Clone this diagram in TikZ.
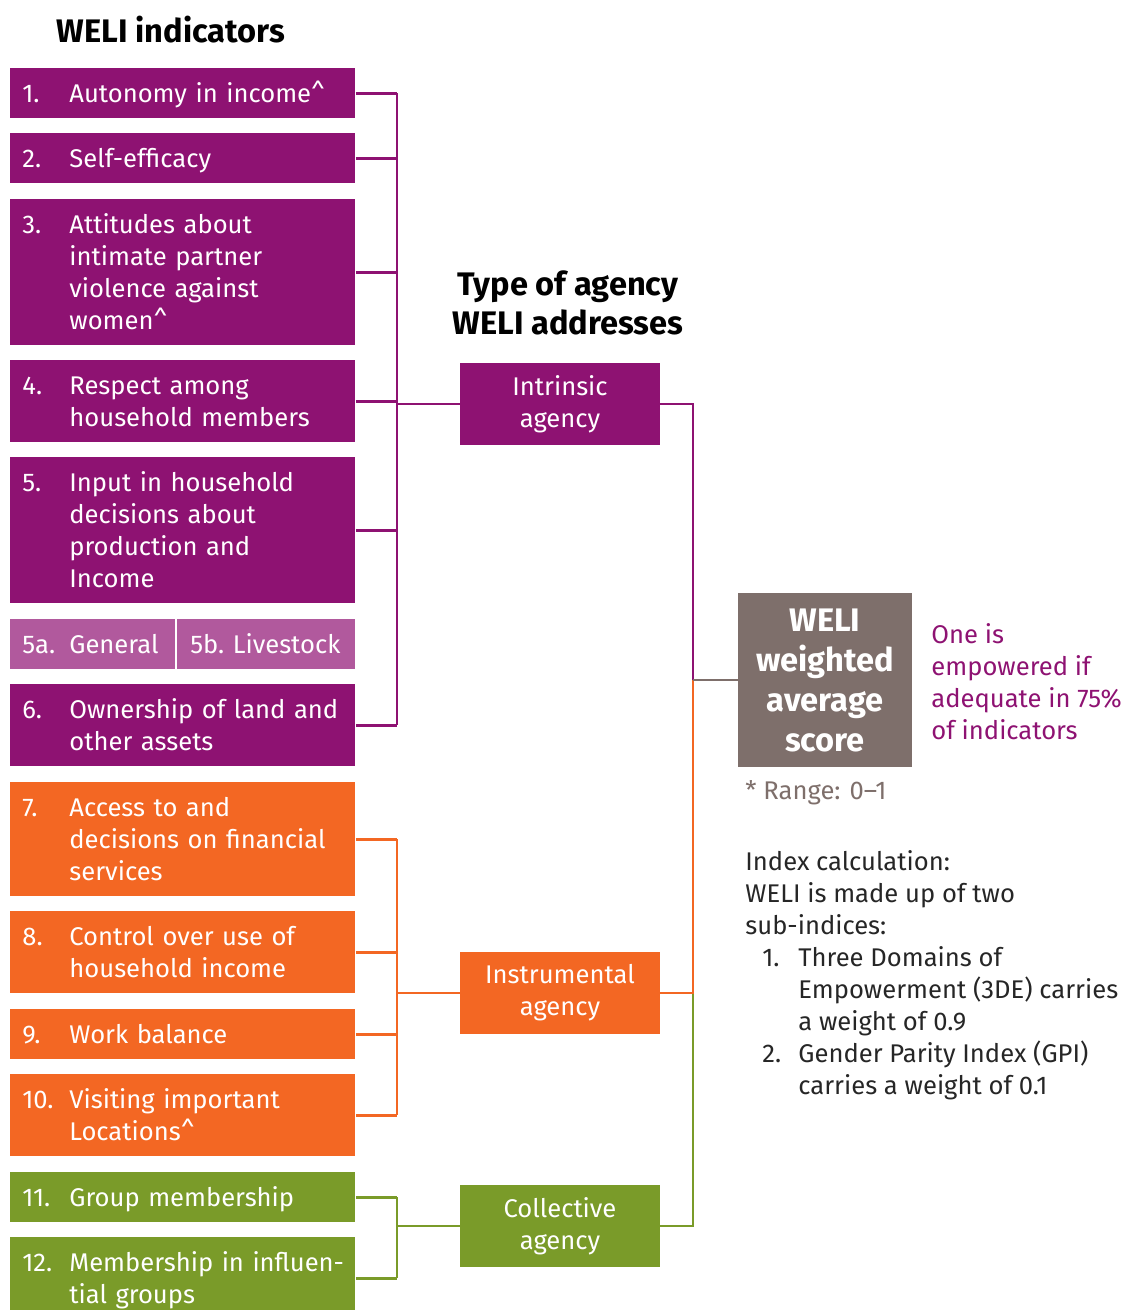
\documentclass[tikz,border=0pt]{standalone}
\usepackage{fontspec}
\setmainfont{Fira Sans}
\usetikzlibrary{positioning, calc}
\setlength{\parindent}{0pt}
\definecolor{weliPurple}{HTML}{8E1272}
\definecolor{weliLilac}{HTML}{B1599D}
\definecolor{weliOrange}{HTML}{F36723}
\definecolor{weliGreen}{HTML}{7A9B29}
\definecolor{weliGrey}{HTML}{7E6F6B}
\newcommand{\boxfont}{\fontsize{12.8}{16}\selectfont}
\newcommand{\headfont}{\fontsize{16.3}{19.5}\selectfont\bfseries}
% extra room above the text, so that it sits a little lower in its box
\newcommand{\padtop}[1]{\raisebox{0pt}[\dimexpr\height+3pt\relax][\depth]{#1}}
\newcommand{\numitem}[2]{%
    \padtop{\begin{tabular}{@{}p{23.5pt}@{}l@{}}
        #1 & \begin{tabular}[t]{@{}l@{}}#2\end{tabular}
    \end{tabular}}%
}
\tikzset{
    indbox/.style={
        rectangle, fill=#1, text=white, anchor=north west,
        text width=160.5pt, inner xsep=6pt, inner ysep=0pt,
        align=left, font=\boxfont
    },
    agencybox/.style={
        rectangle, fill=#1, text=white, minimum width=100pt,
        minimum height=41pt, inner sep=0pt, align=center, font=\boxfont
    },
    link/.style={draw=#1, line width=1.2pt},
}

\begin{document}
\begin{tikzpicture}[x=0.5pt, y=-0.5pt]
    \useasboundingbox (0,0) rectangle (1137,1310);

    % headings
    \node[font=\headfont] (head) at (171,30) {WELI indicators};
    \node[font=\headfont, align=center] (agtitle) at (568,303)
        {Type of agency\\WELI addresses};

    % indicators
    \node[indbox=weliPurple, minimum height=25pt] (i1) at (10,68)
        {\numitem{1.}{Autonomy in income\textasciicircum}};
    \node[indbox=weliPurple, minimum height=25pt] (i2) at (10,133)
        {\numitem{2.}{Self-efficacy}};
    \node[indbox=weliPurple, minimum height=73pt] (i3) at (10,199)
        {\numitem{3.}{Attitudes about\\intimate partner\\violence against\\women\textasciicircum}};
    \node[indbox=weliPurple, minimum height=41pt] (i4) at (10,360)
        {\numitem{4.}{Respect among\\household members}};
    \node[indbox=weliPurple, minimum height=73pt] (i5) at (10,457)
        {\numitem{5.}{Input in household\\decisions about\\production and\\Income}};
    \node[indbox=weliLilac, minimum height=25pt, text width=70.5pt] (i5a) at (10,619)
        {\numitem{5a.}{General}};
    \node[indbox=weliLilac, minimum height=25pt, text width=76pt, inner xsep=6.5pt] (i5b) at (177,619)
        {\padtop{\begin{tabular}{@{}l@{}}5b.\ Livestock\end{tabular}}};
    \node[indbox=weliPurple, minimum height=41pt] (i6) at (10,684)
        {\numitem{6.}{Ownership of land and\\other assets}};
    \node[indbox=weliOrange, minimum height=57pt] (i7) at (10,782)
        {\numitem{7.}{Access to and\\decisions on financial\\services}};
    \node[indbox=weliOrange, minimum height=41pt] (i8) at (10,911)
        {\numitem{8.}{Control over use of\\household income}};
    \node[indbox=weliOrange, minimum height=25pt] (i9) at (10,1009)
        {\numitem{9.}{Work balance}};
    \node[indbox=weliOrange, minimum height=41pt] (i10) at (10,1074)
        {\numitem{10.}{Visiting important\\Locations\textasciicircum}};
    \node[indbox=weliGreen, minimum height=25pt] (i11) at (10,1172)
        {\numitem{11.}{Group membership}};
    \node[indbox=weliGreen, minimum height=41pt] (i12) at (10,1237)
        {\numitem{12.}{Membership in influen-\\tial groups}};

    % agency types
    \node[agencybox=weliPurple] (intr) at (560,404) {Intrinsic\\agency};
    \node[agencybox=weliOrange] (instr) at (560,993) {Instrumental\\agency};
    \node[agencybox=weliGreen] (coll) at (560,1226) {Collective\\agency};

    % score
    \node[fill=weliGrey, text=white, minimum size=87pt, inner sep=0pt,
        align=center, font=\fontsize{16.3}{20}\selectfont\bfseries]
        (score) at (825,680) {WELI\\weighted\\average\\score};
    \node[anchor=west, text=weliPurple, align=left, inner sep=0pt, font=\boxfont]
        (rule) at (931,682) {One is\\empowered if\\adequate in 75\%\\of indicators};
    \node[anchor=west, text=weliGrey, inner sep=0pt, font=\boxfont]
        (range) at (745,793) {* Range: 0--1};
    \node[anchor=west, text=black!85, inner sep=0pt, font=\boxfont]
        (calc) at (745,976) {%
        \begin{tabular}{@{\hspace{8.5pt}}p{18pt}@{}l@{}}
            \multicolumn{2}{@{}l@{}}{Index calculation:}\\
            \multicolumn{2}{@{}l@{}}{WELI is made up of two}\\
            \multicolumn{2}{@{}l@{}}{sub-indices:}\\
            1. & Three Domains of\\
               & Empowerment (3DE) carries\\
               & a weight of 0.9\\
            2. & Gender Parity Index (GPI)\\
               & carries a weight of 0.1
        \end{tabular}};

    % brackets
    \coordinate (lb) at (397,0);
    \coordinate (rb) at (693,0);
    \foreach \n in {1,...,6}
        \draw[link=weliPurple] (i\n.east) -- (i\n.east -| lb);
    \draw[link=weliPurple] (i1.east -| lb) -- (i6.east -| lb);
    \draw[link=weliPurple] (intr.west -| lb) -- (intr.west);
    \foreach \n in {7,...,10}
        \draw[link=weliOrange] (i\n.east) -- (i\n.east -| lb);
    \draw[link=weliOrange] (i7.east -| lb) -- (i10.east -| lb);
    \draw[link=weliOrange] (instr.west -| lb) -- (instr.west);
    \foreach \n in {11,12}
        \draw[link=weliGreen] (i\n.east) -- (i\n.east -| lb);
    \draw[link=weliGreen] (i11.east -| lb) -- (i12.east -| lb);
    \draw[link=weliGreen] (coll.west -| lb) -- (coll.west);

    \draw[link=weliGreen] (coll.east) -| (instr.east -| rb);
    \draw[link=weliOrange] (instr.east) -| (score.west -| rb);
    \draw[link=weliPurple] (intr.east) -| (score.west -| rb);
    \draw[link=weliGrey] (score.west -| rb) -- (score.west);
\end{tikzpicture}
\end{document}
